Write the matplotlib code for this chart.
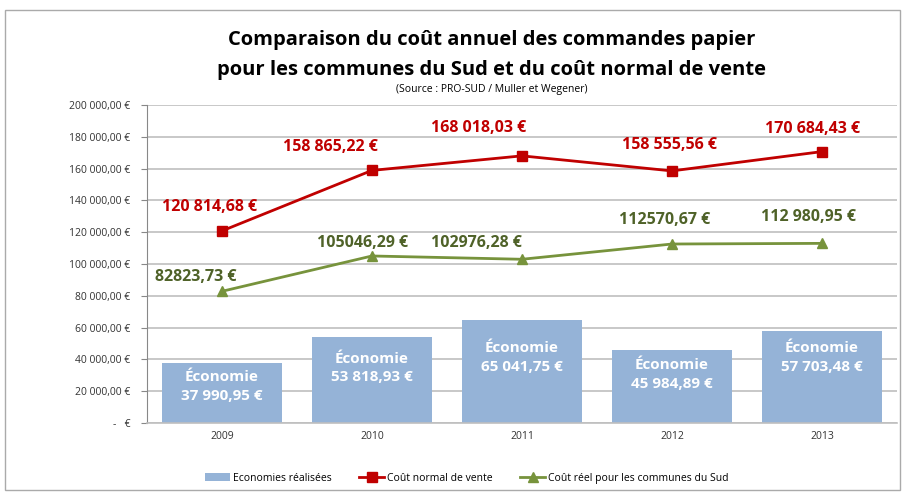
import matplotlib.pyplot as plt
import numpy as np
from matplotlib.patches import Rectangle

plt.rcParams['font.family'] = ['Open Sans', 'DejaVu Sans']

years = ['2009', '2010', '2011', '2012', '2013']
economies = [37990.95, 53818.93, 65041.75, 45984.89, 57703.48]
cout_normal = [120814.68, 158865.22, 168018.03, 158555.56, 170684.43]
cout_reel = [82823.73, 105046.29, 102976.28, 112570.67, 112980.95]

eco_labels = ['37 990,95 €', '53 818,93 €', '65 041,75 €', '45 984,89 €', '57 703,48 €']
normal_labels = ['120 814,68 €', '158 865,22 €', '168 018,03 €', '158 555,56 €', '170 684,43 €']
reel_labels = ['82823,73 €', '105046,29 €', '102976,28 €', '112570,67 €', '112 980,95 €']

# label offsets (points) relative to each marker
normal_off = [(-9, 17), (-30, 17), (-31, 20), (-2, 19), (-7, 16)]
reel_off = [(-19, 10), (-7, 9), (-33, 12), (-5, 17), (-10, 19)]
eco_off = [-17, -22, -27, -18, -19]

fig = plt.figure(figsize=(9.05, 4.93), dpi=100)
ax = fig.add_axes([0.1624, 0.142, 0.8287, 0.645])

x = np.arange(len(years))
bars = ax.bar(x, economies, width=0.8, color='#95B3D7', zorder=2, label='Economies réalisées')
l1, = ax.plot(x, cout_normal, color='#C00000', lw=2, marker='s', ms=7, zorder=3,
              label='Coût normal de vente')
l2, = ax.plot(x, cout_reel, color='#77933C', lw=2, marker='^', ms=7, zorder=3,
              label='Coût réel pour les communes du Sud')

for i in range(len(years)):
    ax.annotate(normal_labels[i], (x[i], cout_normal[i]), xytext=normal_off[i],
                textcoords='offset points', ha='center', va='center',
                color='#C00000', fontsize=11.5, fontweight='bold')
    ax.annotate(reel_labels[i], (x[i], cout_reel[i]), xytext=reel_off[i],
                textcoords='offset points', ha='center', va='center',
                color='#4F6228', fontsize=11.5, fontweight='bold')
    ax.annotate('Économie\n' + eco_labels[i], (x[i], economies[i]),
                xytext=(0, eco_off[i]), textcoords='offset points',
                ha='center', va='center', color='white', fontsize=11,
                fontweight='bold', linespacing=1.45)

ax.set_xlim(-0.5, 4.5)
ax.set_ylim(0, 200000)
yt = np.arange(0, 200001, 20000)
ax.set_yticks(yt)
ax.set_yticklabels(['-   €'] + [f'{v:,.0f}'.replace(',', ' ') + ',00 €' for v in yt[1:]],
                   fontsize=7.5, color='#333333')
ax.set_xticks(x)
ax.set_xticklabels(years, fontsize=7.5, color='#333333')
ax.tick_params(axis='x', length=0, pad=6)
ax.tick_params(axis='y', length=4, color='#888888', pad=8)
ax.grid(axis='y', color='#BFBFBF', lw=1.2, zorder=0)
for side in ['top', 'right']:
    ax.spines[side].set_visible(False)
ax.spines['left'].set_color('#888888')
ax.spines['bottom'].set_color('#BFBFBF')
ax.spines['bottom'].set_linewidth(1.2)

fig.text(0.543, 0.918, 'Comparaison du coût annuel des commandes papier',
         ha='center', va='center', fontsize=14.5, fontweight='bold')
fig.text(0.543, 0.857, 'pour les communes du Sud et du coût normal de vente',
         ha='center', va='center', fontsize=14.5, fontweight='bold')
fig.text(0.543, 0.819, '(Source : PRO-SUD / Muller et Wegener)',
         ha='center', va='center', fontsize=7.5)

fig.legend([bars, l1, l2], [bars.get_label(), l1.get_label(), l2.get_label()],
           loc='center', bbox_to_anchor=(0.516, 0.03), ncol=3, frameon=False,
           fontsize=7.5, handlelength=2.4, columnspacing=2.6, handletextpad=0.3)

fig.patches.append(Rectangle((0.006, 0.006), 0.988, 0.974, transform=fig.transFigure,
                             fill=False, edgecolor='#AAAAAA', lw=1))

fig.savefig('out.png', dpi=100)
